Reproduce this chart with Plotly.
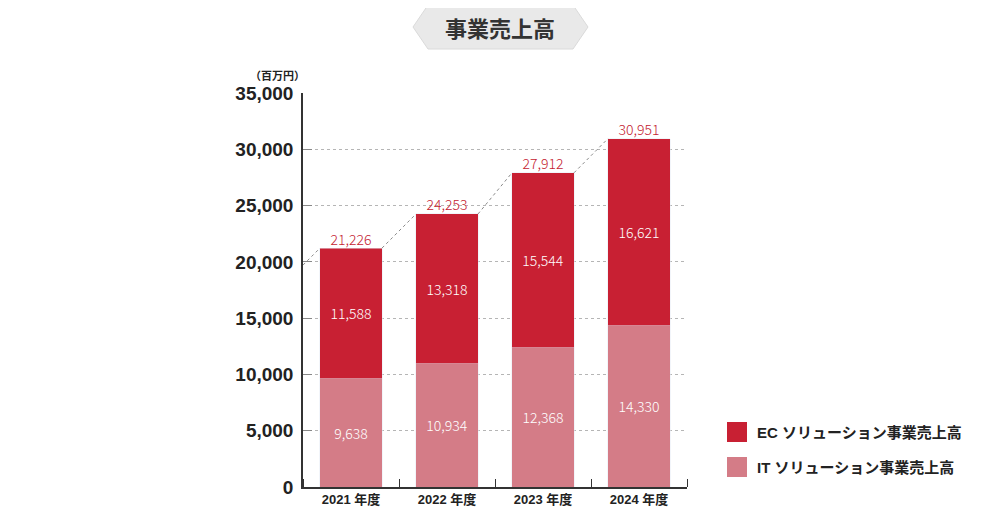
import plotly.graph_objects as go

# data (百万円)
years = ["2021 年度", "2022 年度", "2023 年度", "2024 年度"]
it_sales = [9638, 10934, 12368, 14330]
ec_sales = [11588, 13318, 15544, 16621]
totals = [21226, 24253, 27912, 30951]

EC_COLOR = "#c82033"
IT_COLOR = "#d47c87"
BAR_W = 0.646

x = list(range(len(years)))
fmt = lambda v: f"{v:,}"
num_font = dict(family="Noto Sans CJK JP", size=14, weight=300)
bold_font = "Liberation Sans, Noto Sans CJK JP"

# page offset (body margin) and plot area in screen pixels
OFF = 8
L, R, T, B = 303, 687, 93, 487
def px(v): return (v - L) / (R - L)
def py(v): return (B - v) / (B - T)

fig = go.Figure()

# dotted connectors between bar tops
cx, cy = [], []
slope0 = (totals[1] - totals[0]) / (1 - BAR_W)
cx += [-0.5, -BAR_W / 2, None]
cy += [totals[0] - slope0 * (0.5 - BAR_W / 2), totals[0], None]
for i in range(1, len(totals)):
    cx += [i - 1 + BAR_W / 2, i - BAR_W / 2, None]
    cy += [totals[i - 1], totals[i], None]
fig.add_trace(go.Scatter(x=cx, y=cy, mode="lines", line=dict(color="#8a8a8a", width=1, dash="dot"),
                         hoverinfo="skip", showlegend=False))

fig.add_trace(go.Bar(x=x, y=it_sales, width=BAR_W, marker_color=IT_COLOR, name="IT ソリューション事業売上高",
                     text=[fmt(v) for v in it_sales], textposition="inside", insidetextanchor="middle",
                     textfont=dict(color="white", **num_font), showlegend=False))
fig.add_trace(go.Bar(x=x, y=ec_sales, width=BAR_W, marker_color=EC_COLOR, name="EC ソリューション事業売上高",
                     text=[fmt(v) for v in ec_sales], textposition="inside", insidetextanchor="middle",
                     textfont=dict(color="white", **num_font), showlegend=False))

# totals above bars
fig.add_trace(go.Scatter(x=x, y=totals, mode="text", text=[fmt(v) for v in totals],
                         textposition="top center", textfont=dict(color="#c41a30", **num_font),
                         hoverinfo="skip", showlegend=False))

fig.update_layout(
    barmode="stack",
    width=1000, height=524,
    margin=dict(l=L - OFF, r=1000 - R + OFF, t=T - OFF, b=524 - B + OFF),
    plot_bgcolor="white", paper_bgcolor="white",
    showlegend=False,
    xaxis=dict(range=[-0.5, 3.5], tickmode="array", tickvals=x, ticktext=years, ticks="",
               showgrid=False, zeroline=False, showline=True, linecolor="#333", linewidth=1.5,
               tickfont=dict(family=bold_font, size=13, color="#222", weight="bold"),
               minor=dict(tickmode="array", tickvals=[-0.5, 0.5, 1.5, 2.5, 3.5], ticks="inside",
                          ticklen=8, tickcolor="#333", tickwidth=1, showgrid=False)),
    yaxis=dict(range=[0, 35000], tickvals=list(range(0, 35001, 5000)), tickformat=",",
               showgrid=True, gridcolor="#b5b5b5", griddash="dot", gridwidth=1,
               zeroline=False, showline=True, linecolor="#333", linewidth=1.5,
               ticks="inside", ticklen=9, tickcolor="#888", ticklabelstandoff=4,
               tickfont=dict(family=bold_font, size=19, color="#222", weight="bold")),
)

# title badge
hexpath = (f"M {px(413)} {py(27)} L {px(428)} {py(5)} L {px(573)} {py(5)} "
           f"L {px(588)} {py(27)} L {px(573)} {py(49)} L {px(428)} {py(49)} Z")
fig.add_shape(type="path", path=hexpath, xref="paper", yref="paper",
              fillcolor="#e9e9e9", line=dict(color="#dadada", width=1), layer="above")
fig.add_annotation(x=px(500), y=py(27), xref="paper", yref="paper", text="事業売上高", showarrow=False,
                   xanchor="center", yanchor="middle",
                   font=dict(family="Noto Sans CJK JP", size=22, color="#333", weight="bold"))

# unit label
fig.add_annotation(x=px(277), y=py(75), xref="paper", yref="paper", text="（百万円）", showarrow=False,
                   xanchor="center", yanchor="middle",
                   font=dict(family="Noto Sans CJK JP", size=11, color="#222", weight="bold"))

# legend drawn by hand
for name, col, ymid in [("EC ソリューション事業売上高", EC_COLOR, 432),
                        ("IT ソリューション事業売上高", IT_COLOR, 467)]:
    fig.add_shape(type="rect", xref="paper", yref="paper", x0=px(727), x1=px(747),
                  y0=py(ymid + 10), y1=py(ymid - 10), fillcolor=col, line=dict(width=0))
    fig.add_annotation(x=px(755), y=py(ymid), xref="paper", yref="paper", text=name, showarrow=False,
                       xanchor="left", yanchor="middle",
                       font=dict(family=bold_font, size=15, color="#222", weight="bold"))

fig.write_html("out.html")
